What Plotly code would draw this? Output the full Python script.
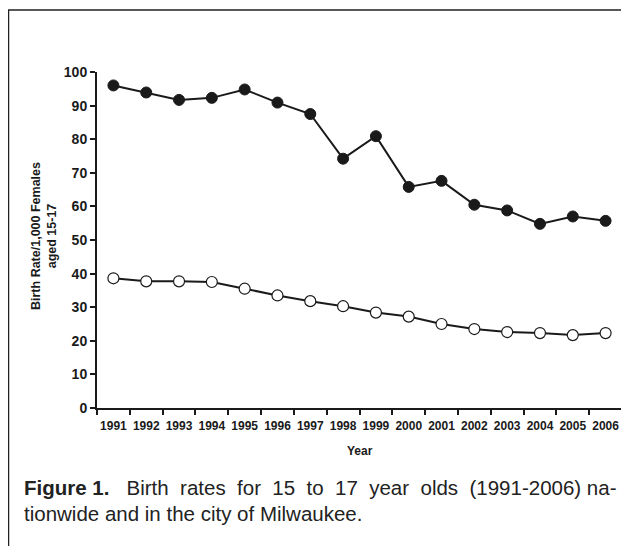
import plotly.graph_objects as go

years = [str(y) for y in range(1991, 2007)]
milwaukee = [96.0, 93.9, 91.7, 92.3, 94.8, 90.9, 87.5, 74.2, 80.9, 65.8, 67.6, 60.5, 58.8, 54.8, 57.0, 55.7]
nationwide = [38.6, 37.7, 37.7, 37.5, 35.5, 33.5, 31.8, 30.3, 28.4, 27.2, 25.0, 23.5, 22.6, 22.3, 21.7, 22.3]
y_ticks = list(range(0, 101, 10))

OFF = 8  # default page body margin
W, H = 629 - OFF, 546 - OFF
L, R, T, B = 97 - OFF, 7, 72 - OFF, 138
pw, ph = W - L - R, H - T - B

def px(x):  # screen x -> paper
    return (x - OFF - L) / pw

def py(y):  # screen y -> paper
    return (H - B - (y - OFF)) / ph

fig = go.Figure()
fig.add_trace(go.Scatter(
    x=years, y=milwaukee, mode="lines+markers",
    line=dict(color="#1a1a1a", width=2),
    marker=dict(symbol="circle", size=11, color="#1a1a1a", line=dict(color="#1a1a1a", width=1)),
    showlegend=False, cliponaxis=False))
fig.add_trace(go.Scatter(
    x=years, y=nationwide, mode="lines+markers",
    line=dict(color="#1a1a1a", width=2),
    marker=dict(symbol="circle", size=11, color="white", line=dict(color="#1a1a1a", width=1.2)),
    showlegend=False, cliponaxis=False))

sp = "&nbsp;"
line1 = ("<b>Figure" + sp + "1.</b>" + sp * 3 + "Birth" + sp * 2 + "rates" + sp * 2 + "for" + sp * 2 +
         "15" + sp * 2 + "to" + sp * 2 + "17" + sp * 2 + "year" + sp * 2 + "olds" + sp * 2 +
         "(1991-2006)" + sp + "na-")

fig.update_layout(
    width=W, height=H,
    margin=dict(l=L, r=R, t=T, b=B, autoexpand=False),
    paper_bgcolor="white", plot_bgcolor="white",
    font=dict(family="Liberation Sans, Arial, sans-serif", color="#1a1a1a"),
    xaxis=dict(type="category", tickson="boundaries", ticks="outside", ticklen=5, tickwidth=1.5,
               tickangle=0, automargin=False, ticklabelstandoff=6,
               tickcolor="#1a1a1a", showline=True, linecolor="#1a1a1a", linewidth=2,
               showgrid=False, zeroline=False, range=[-0.5, 15.5],
               tickfont=dict(size=12, family="Liberation Sans, Arial, sans-serif", weight="bold")),
    yaxis=dict(range=[0, 100], tickvals=y_ticks, ticks="outside", ticklen=5, tickwidth=1.5,
               automargin=False,
               tickcolor="#1a1a1a", showline=True, linecolor="#1a1a1a", linewidth=2,
               showgrid=False, zeroline=False,
               tickfont=dict(size=14, family="Liberation Sans, Arial, sans-serif", weight="bold")),
    shapes=[dict(type="rect", xref="paper", yref="paper",
                 x0=px(8.5), x1=px(660), y0=py(580), y1=py(10),
                 line=dict(color="#222222", width=1.5), fillcolor="rgba(0,0,0,0)", layer="above")],
    annotations=[
        dict(text="<b>Birth Rate/1,000 Females<br>aged 15-17</b>", xref="paper", yref="paper",
             x=px(44), y=py(236), xanchor="center", yanchor="middle", textangle=-90, align="center",
             showarrow=False, font=dict(size=12.5)),
        dict(text="<b>Year</b>", xref="paper", yref="paper", x=px(360), y=py(451),
             xanchor="center", yanchor="middle", showarrow=False, font=dict(size=12)),
        dict(text=line1,
             xref="paper", yref="paper", x=px(22), y=py(487), xanchor="left", yanchor="middle",
             showarrow=False, font=dict(size=20.5, color="#222222")),
        dict(text="tionwide and in the city of Milwaukee.",
             xref="paper", yref="paper", x=px(22), y=py(513), xanchor="left", yanchor="middle",
             showarrow=False, font=dict(size=20.5, color="#222222")),
    ],
)

fig.write_html("out.html")
